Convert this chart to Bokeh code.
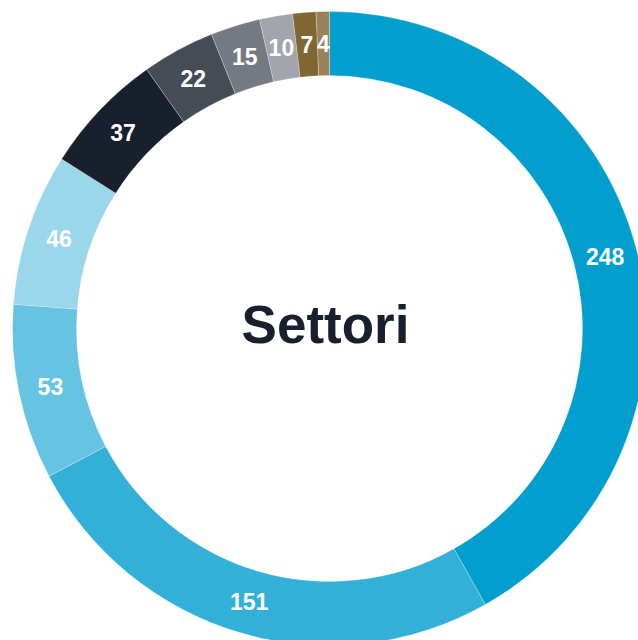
import math
from bokeh.plotting import figure
from bokeh.models import Range1d, ColumnDataSource
from bokeh.core.properties import value
from bokeh.embed import file_html
from bokeh.resources import INLINE

# Data
sectors = ["S1", "S2", "S3", "S4", "S5", "S6", "S7", "S8", "S9", "S10"]
counts = [248, 151, 53, 46, 37, 22, 15, 10, 7, 4]
colors = ["#029fce", "#33b0d8", "#66c3e1", "#9ad7eb", "#17202c",
          "#464c56", "#747982", "#a2a5ab", "#7f6633", "#998259"]
title_text = "Settori"

W, H = 638, 640
cx, cy = 329, H - 328
r_out, r_in = 317, 253

total = sum(counts)
starts, ends, lx, ly = [], [], [], []
cum = 0.0
for c in counts:
    a0 = math.pi / 2 - 2 * math.pi * cum / total
    cum += c
    a1 = math.pi / 2 - 2 * math.pi * cum / total
    starts.append(a0)
    ends.append(a1)
    mid = (a0 + a1) / 2
    rm = (r_in + r_out) / 2
    lx.append(cx + rm * math.cos(mid))
    ly.append(cy + rm * math.sin(mid))

src = ColumnDataSource(dict(
    sector=sectors, count=counts, color=colors,
    start=starts, end=ends, lx=lx, ly=ly,
    label=[str(c) for c in counts],
))

p = figure(width=W, height=H, output_backend="svg", toolbar_location=None,
           x_range=Range1d(0, W), y_range=Range1d(0, H),
           x_axis_type=None, y_axis_type=None, min_border=0,
           outline_line_color=None, background_fill_color="white",
           border_fill_color="white")
p.grid.visible = False

p.annular_wedge(x=cx, y=cy, inner_radius=r_in, outer_radius=r_out,
                start_angle="start", end_angle="end", direction="clock",
                fill_color="color", line_color="white", line_width=1,
                line_alpha=0.25, source=src)

p.text(x="lx", y="ly", text="label", source=src,
       text_align="center", text_baseline="middle",
       text_color="white", text_font=value("Liberation Sans"),
       text_font_style="bold", text_font_size="23px")

p.text(x=[cx - 4], y=[cy + 4], text=[title_text],
       text_align="center", text_baseline="middle",
       text_color="#17202c", text_font=value("Liberation Sans"),
       text_font_style="bold", text_font_size="53px")

open("out.html", "w").write(file_html(p, INLINE))
